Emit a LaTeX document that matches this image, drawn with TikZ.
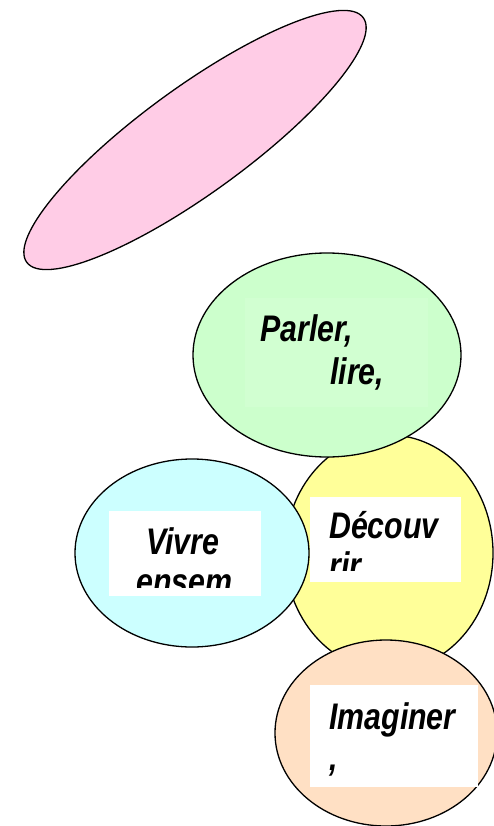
\documentclass[tikz,border=0pt]{standalone}
\usepackage{fontspec}
\newfontfamily\lab[FakeStretch=0.82]{Liberation Sans}
\usetikzlibrary{shapes.geometric}
\definecolor{pinkf}{HTML}{FFCCE6}
\definecolor{greenf}{HTML}{CCFFCC}
\definecolor{greenl}{HTML}{D1FFD1}
\definecolor{bluef}{HTML}{CCFFFF}
\definecolor{yellowf}{HTML}{FFFF99}
\definecolor{orangef}{HTML}{FFE0C4}
\tikzset{
  blob/.style={ellipse, draw=black, line width=1.3pt, inner sep=0pt},
  lbl/.style={anchor=base west, inner sep=0pt, font=\lab\bfseries\itshape\fontsize{37}{40}\selectfont},
  wbox/.style={fill=white, draw=none}
}
\begin{document}
\begin{tikzpicture}[x=1pt,y=-1pt]
\useasboundingbox (0,0) rectangle (494,826);
% shapes
\node[blob, fill=pinkf, minimum width=416pt, minimum height=106pt, rotate=36] (pink) at (195,140) {};
\node[blob, fill=yellowf, minimum width=208pt, minimum height=236pt] (yellow) at (389,553) {};
\node[blob, fill=greenf, minimum width=268pt, minimum height=204pt] (green) at (327,355) {};
\node[blob, fill=bluef, minimum width=234pt, minimum height=188pt] (blue) at (192,553) {};
\node[blob, fill=orangef, minimum width=222pt, minimum height=186pt] (orange) at (386,733) {};
% text boxes
\fill[greenl] (245,298) rectangle (428,407);
\fill[white] (109,511) rectangle (261,596);
\fill[white] (310,497) rectangle (461,582);
\fill[white] (310,685) rectangle (478,787);
% texts
\node[lbl] (t1) at (260,341) {Parler,};
\node[lbl] (t2) at (330,384) {lire,};
\begin{scope}
\clip (109,511) rectangle (261,587);
\node[lbl] (t3) at (146,554) {Vivre};
\node[lbl] (t4) at (136,594) {ensem};
\end{scope}
\begin{scope}
\clip (310,497) rectangle (461,570);
\node[lbl] (t5) at (329,538) {Découv};
\node[lbl] (t6) at (329,578) {rir};
\end{scope}
\node[lbl] (t7) at (329,729) {Imaginer};
\node[lbl] (t8) at (329,770) {,};
\end{tikzpicture}
\end{document}
